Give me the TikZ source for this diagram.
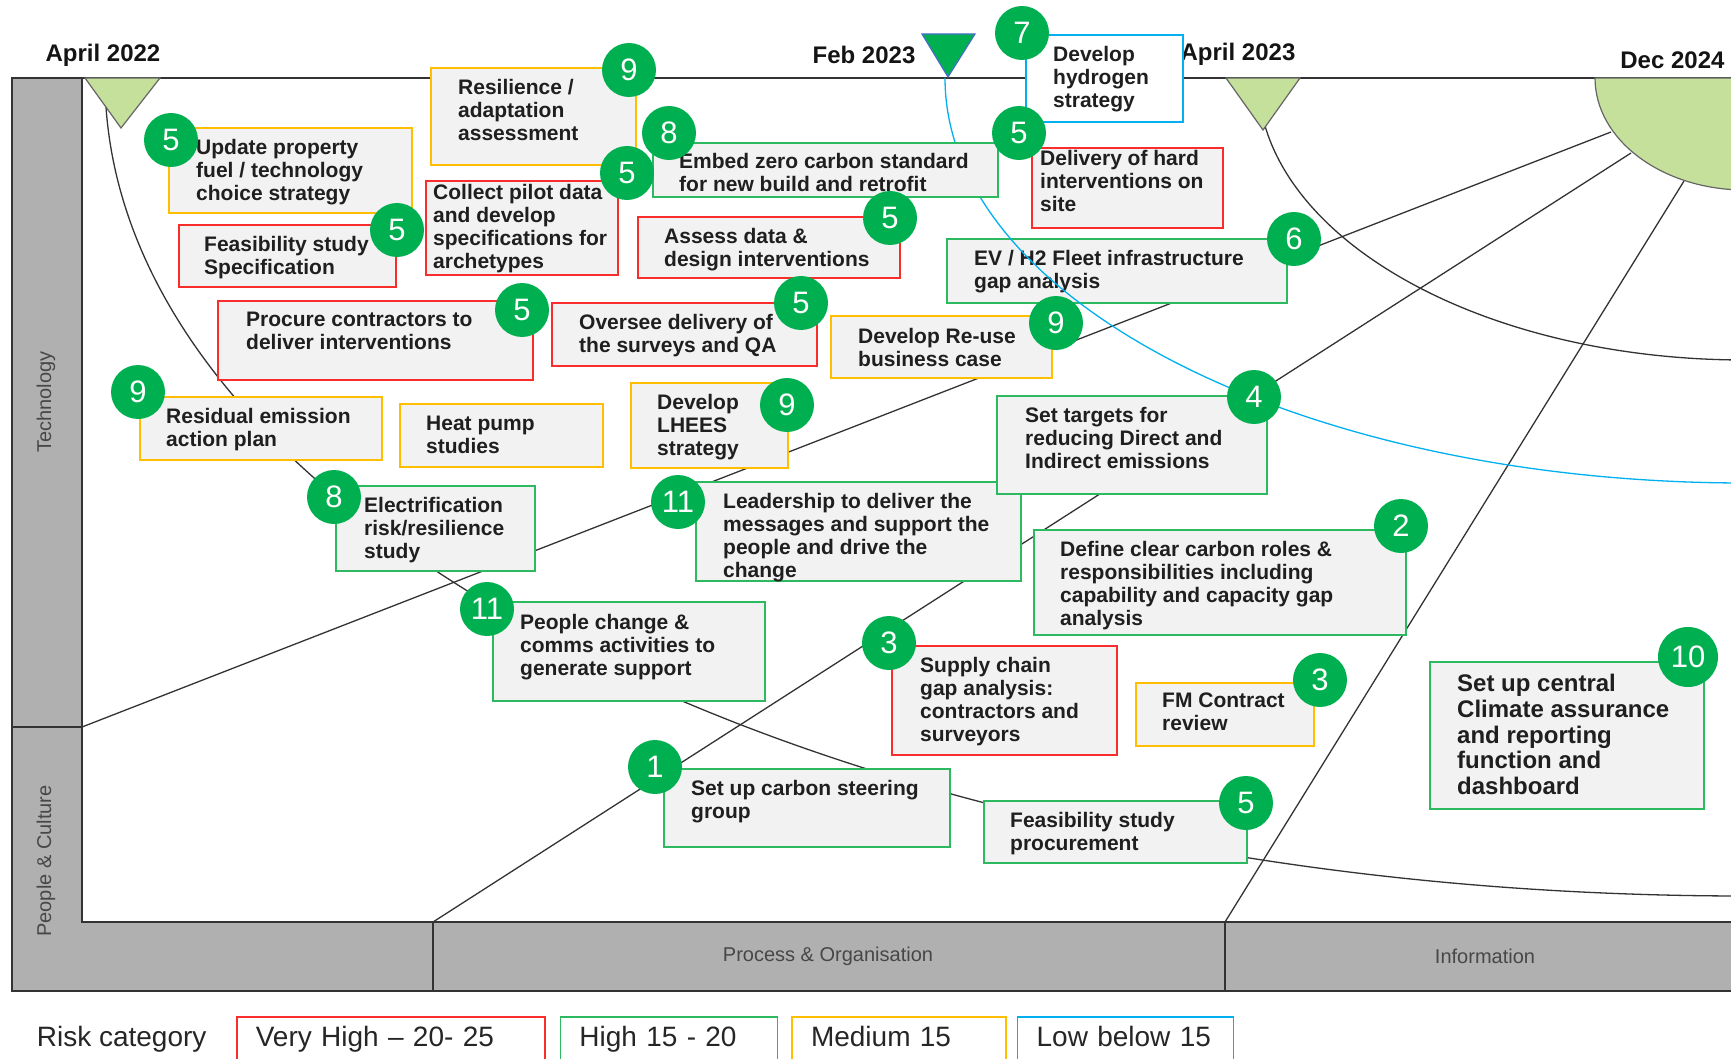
\documentclass[tikz,border=0pt]{standalone}
\usepackage{fontspec}
\setmainfont{Liberation Sans}
\usepackage{xcolor}
\usetikzlibrary{positioning}

\definecolor{riskred}{RGB}{250,45,45}
\definecolor{riskgreen}{RGB}{45,185,95}
\definecolor{riskamber}{RGB}{255,190,0}
\definecolor{riskblue}{RGB}{0,176,240}
\definecolor{badgegreen}{RGB}{0,176,80}
\definecolor{boxgrey}{RGB}{242,242,242}
\definecolor{bargrey}{RGB}{176,176,176}
\definecolor{paleleaf}{RGB}{196,224,154}
\definecolor{markerblue}{RGB}{70,110,200}

\begin{document}
\begin{tikzpicture}[
    x=1pt, y=-1pt,
    taskbox/.style={rectangle, draw=#1, line width=1.6pt, fill=boxgrey, anchor=north west, inner sep=0pt, outer sep=0pt},
    tasktext/.style={anchor=north west, align=left, inner sep=0pt, text=black!88, font=\fontsize{21}{23}\selectfont\bfseries, execute at begin node=\strut},
    badge/.style={circle, fill=badgegreen, text=white, minimum size=54pt, inner sep=0pt, font=\fontsize{31}{31}\selectfont},
    bar/.style={fill=bargrey},
    frameline/.style={draw=black!80, line width=1.6pt},
    chartline/.style={draw=black!80, line width=1.3pt},
    axislabel/.style={text=black!72, font=\fontsize{20}{20}\selectfont},
    datelabel/.style={text=black!92, font=\fontsize{24}{24}\selectfont\bfseries},
    marker/.style={fill=paleleaf, draw=black!60, line width=1.2pt},
    legendbox/.style={rectangle, draw=#1, line width=1.6pt, fill=white, minimum height=47pt, inner xsep=19pt, align=left, text=black!85, font=\fontsize{28}{30}\selectfont, execute at begin node=\strut}
  ]
  \useasboundingbox (0,0) rectangle (1731,1059);

  % Frame and category bars
  \fill[bar] (12,78) rectangle (82,991);
  \fill[bar] (82,922) rectangle (1740,991);
  \draw[frameline] (1740,78) -- (12,78) -- (12,991) -- (1740,991);
  \draw[frameline] (82,78) -- (82,922) -- (1740,922);
  \coordinate (sepPC) at (82,727);
  \coordinate (divPO) at (433,922);
  \coordinate (divInfo) at (1225,922);
  \draw[frameline] (12,727) -- (sepPC);
  \draw[frameline] (divPO) -- (433,991);
  \draw[frameline] (divInfo) -- (1225,991);
  \node[axislabel, rotate=90] (techlab) at (46,402) {Technology};
  \node[axislabel, rotate=90] (peoplelab) at (46,861) {People \& Culture};
  \node[axislabel] (proclab) at (828,956) {Process \& Organisation};
  \node[axislabel] (infolab) at (1485,956) {Information};

  % Timeline dates
  \node[datelabel] (apr22) at (103,55) {April 2022};
  \node[datelabel] (feb23) at (864,55) {Feb 2023};
  \node[datelabel] (apr23) at (1238,54) {April 2023};
  \node[datelabel, anchor=east] (dec24) at (1728,60) {Dec 2024};

  % Radial lines and arcs (behind the boxes)
  \coordinate (decA) at (1611,132);
  \coordinate (decB) at (1631,153);
  \coordinate (decC) at (1684,181);
  \draw[chartline] (decA) -- (sepPC);
  \draw[chartline] (decB) -- (divPO);
  \draw[chartline] (decC) -- (divInfo);
  \draw[chartline] (105,78) arc[start angle=180, end angle=90, x radius=1640, y radius=818];
  \draw[chartline] (1258,78) arc[start angle=180, end angle=90, x radius=487, y radius=282];

  % Technology boxes
  \node[taskbox=riskamber, minimum width=205pt, minimum height=97pt] (resil) at (431,68) {};
  \node[tasktext] (resiltext) at ([shift={(27,11)}]resil.north west) {Resilience /\\adaptation\\assessment};
  \node[taskbox=riskamber, minimum width=243pt, minimum height=85pt] (update) at (169,128) {};
  \node[tasktext] (updatetext) at ([shift={(27,11)}]update.north west) {Update property\\fuel / technology\\choice strategy};
  \node[taskbox=riskred, minimum width=217pt, minimum height=62pt] (feasspec) at (179,225) {};
  \node[tasktext] (feasspectext) at ([shift={(25,11)}]feasspec.north west) {Feasibility study\\Specification};
  \node[taskbox=riskred, minimum width=192pt, minimum height=94pt] (collect) at (426,181) {};
  \node[tasktext] (collecttext) at ([shift={(7,3)}]collect.north west) {Collect pilot data\\and develop\\specifications for\\archetypes};
  \node[taskbox=riskred, minimum width=315pt, minimum height=79pt] (procure) at (218,301) {};
  \node[tasktext] (procuretext) at ([shift={(28,11)}]procure.north west) {Procure contractors to\\deliver interventions};
  \node[taskbox=riskred, minimum width=262pt, minimum height=61pt] (assess) at (638,217) {};
  \node[tasktext] (assesstext) at ([shift={(26,11)}]assess.north west) {Assess data \&\\design interventions};
  \node[taskbox=riskred, minimum width=265pt, minimum height=63pt] (oversee) at (552,303) {};
  \node[tasktext] (overseetext) at ([shift={(27,11)}]oversee.north west) {Oversee delivery of\\the surveys and QA};
  \node[taskbox=riskblue, fill=white, minimum width=157pt, minimum height=87pt] (hydro) at (1026,35) {};
  \node[tasktext] (hydrotext) at ([shift={(27,11)}]hydro.north west) {Develop\\hydrogen\\strategy};
  \node[taskbox=riskred, minimum width=191pt, minimum height=80pt] (delivery) at (1032,148) {};
  \node[tasktext] (deliverytext) at ([shift={(8,2)}]delivery.north west) {Delivery of hard\\interventions on\\site};
  \node[taskbox=riskgreen, minimum width=340pt, minimum height=64pt] (evh2) at (947,239) {};
  \node[tasktext] (evh2text) at ([shift={(27,11)}]evh2.north west) {EV / H2 Fleet infrastructure\\gap analysis};
  \node[taskbox=riskamber, minimum width=221pt, minimum height=62pt] (reuse) at (831,316) {};
  \node[tasktext] (reusetext) at ([shift={(27,12)}]reuse.north west) {Develop Re-use\\business case};
  \node[taskbox=riskamber, minimum width=242pt, minimum height=63pt] (resid) at (140,397) {};
  \node[tasktext] (residtext) at ([shift={(26,11)}]resid.north west) {Residual emission\\action plan};
  \node[taskbox=riskamber, minimum width=203pt, minimum height=63pt] (heat) at (400,404) {};
  \node[tasktext] (heattext) at ([shift={(26,12)}]heat.north west) {Heat pump\\studies};
  \node[taskbox=riskamber, minimum width=157pt, minimum height=85pt] (lhees) at (631,383) {};
  \node[tasktext] (lheestext) at ([shift={(26,11)}]lhees.north west) {Develop\\LHEES\\strategy};
  \node[taskbox=riskgreen, minimum width=199pt, minimum height=85pt] (elec) at (336,486) {};
  \node[tasktext] (electext) at ([shift={(28,11)}]elec.north west) {Electrification\\risk/resilience\\study};

  % Process and people boxes
  \node[taskbox=riskgreen, minimum width=325pt, minimum height=99pt] (lead) at (696,482) {};
  \node[tasktext] (leadtext) at ([shift={(27,11)}]lead.north west) {Leadership to deliver the\\messages and support the\\people and drive the\\change};
  \node[taskbox=riskgreen, minimum width=270pt, minimum height=98pt] (targets) at (997,396) {};
  \node[tasktext] (targetstext) at ([shift={(28,11)}]targets.north west) {Set targets for\\reducing Direct and\\Indirect emissions};
  \node[taskbox=riskgreen, minimum width=372pt, minimum height=105pt] (define) at (1034,530) {};
  \node[tasktext] (definetext) at ([shift={(26,11)}]define.north west) {Define clear carbon roles \&\\responsibilities including\\capability and capacity gap\\analysis};
  \node[taskbox=riskgreen, minimum width=272pt, minimum height=99pt] (people) at (493,602) {};
  \node[tasktext] (peopletext) at ([shift={(27,12)}]people.north west) {People change \&\\comms activities to\\generate support};
  \node[taskbox=riskred, minimum width=225pt, minimum height=109pt] (supply) at (892,646) {};
  \node[tasktext] (supplytext) at ([shift={(28,11)}]supply.north west) {Supply chain\\gap analysis:\\contractors and\\surveyors};
  \node[taskbox=riskamber, minimum width=178pt, minimum height=63pt] (fm) at (1136,683) {};
  \node[tasktext] (fmtext) at ([shift={(26,10)}]fm.north west) {FM Contract\\review};
  \node[taskbox=riskgreen, minimum width=286pt, minimum height=78pt] (steer) at (664,769) {};
  \node[tasktext] (steertext) at ([shift={(27,11)}]steer.north west) {Set up carbon steering\\group};
  \node[taskbox=riskgreen, minimum width=263pt, minimum height=62pt] (feasproc) at (984,801) {};
  \node[tasktext] (feasproctext) at ([shift={(26,11)}]feasproc.north west) {Feasibility study\\procurement};
  \node[taskbox=riskgreen, minimum width=274pt, minimum height=147pt] (central) at (1430,662) {};
  \node[tasktext, font=\fontsize{24}{25.8}\selectfont\bfseries] (centraltext) at ([shift={(27,12)}]central.north west) {Set up central\\Climate assurance\\and reporting\\function and\\dashboard};

  % Low risk arc runs over the fleet box, under the standard box
  \draw[chartline, draw=riskblue] (945,78) arc[start angle=180, end angle=90, x radius=800, y radius=405];
  \node[taskbox=riskgreen, minimum width=345pt, minimum height=54pt] (embed) at (653,143) {};
  \node[tasktext] (embedtext) at ([shift={(26,10)}]embed.north west) {Embed zero carbon standard\\for new build and retrofit};

  % Date markers
  \draw[marker] (85,78) -- (160,78) -- (121,128) -- cycle;
  \draw[marker, fill=badgegreen, draw=markerblue] (922,34) -- (975,34) -- (948,77) -- cycle;
  \draw[marker] (1226,78) -- (1300,78) -- (1263,130) -- cycle;
  \draw[marker] (1595,78) arc[start angle=180, end angle=0, x radius=150, y radius=112] -- cycle;

  % Priority badges
  \node[badge] (resilbadge) at (629,70) {9};
  \node[badge] (updatebadge) at (171,140) {5};
  \node[badge] (feasspecbadge) at (397,230) {5};
  \node[badge] (collectbadge) at (627,173) {5};
  \node[badge] (procurebadge) at (522,310) {5};
  \node[badge] (embedbadge) at (669,133) {8};
  \node[badge] (assessbadge) at (890,218) {5};
  \node[badge] (overseebadge) at (801,303) {5};
  \node[badge] (hydrobadge) at (1022,33) {7};
  \node[badge] (deliverybadge) at (1019,133) {5};
  \node[badge] (evh2badge) at (1294,239) {6};
  \node[badge] (reusebadge) at (1056,323) {9};
  \node[badge] (residbadge) at (138,392) {9};
  \node[badge] (lheesbadge) at (787,405) {9};
  \node[badge] (elecbadge) at (334,497) {8};
  \node[badge] (leadbadge) at (678,502) {11};
  \node[badge] (targetsbadge) at (1254,397) {4};
  \node[badge] (definebadge) at (1401,526) {2};
  \node[badge] (peoplebadge) at (487,609) {11};
  \node[badge] (supplybadge) at (889,643) {3};
  \node[badge] (fmbadge) at (1320,680) {3};
  \node[badge] (steerbadge) at (655,767) {1};
  \node[badge] (feasprocbadge) at (1246,803) {5};
  \node[badge, minimum size=60pt] (centralbadge) at (1688,657) {10};

  % Legend
  \node[legendbox=riskred, text width=270pt, anchor=north west] (legvhigh) at (236,1016) {Very High -- 20- 25};
  \node[legendbox=riskgreen, text width=179pt, right=14pt of legvhigh] (leghigh) {High 15 - 20};
  \node[legendbox=riskamber, text width=176pt, right=13pt of leghigh] (legmed) {Medium 15};
  \node[legendbox=riskblue, text width=178pt, right=10pt of legmed] (leglow) {Low below 15};
  \node[text=black!85, font=\fontsize{28}{30}\selectfont, execute at begin node=\strut, left=26pt of legvhigh] (riskcat) {Risk category};
\end{tikzpicture}
\end{document}
